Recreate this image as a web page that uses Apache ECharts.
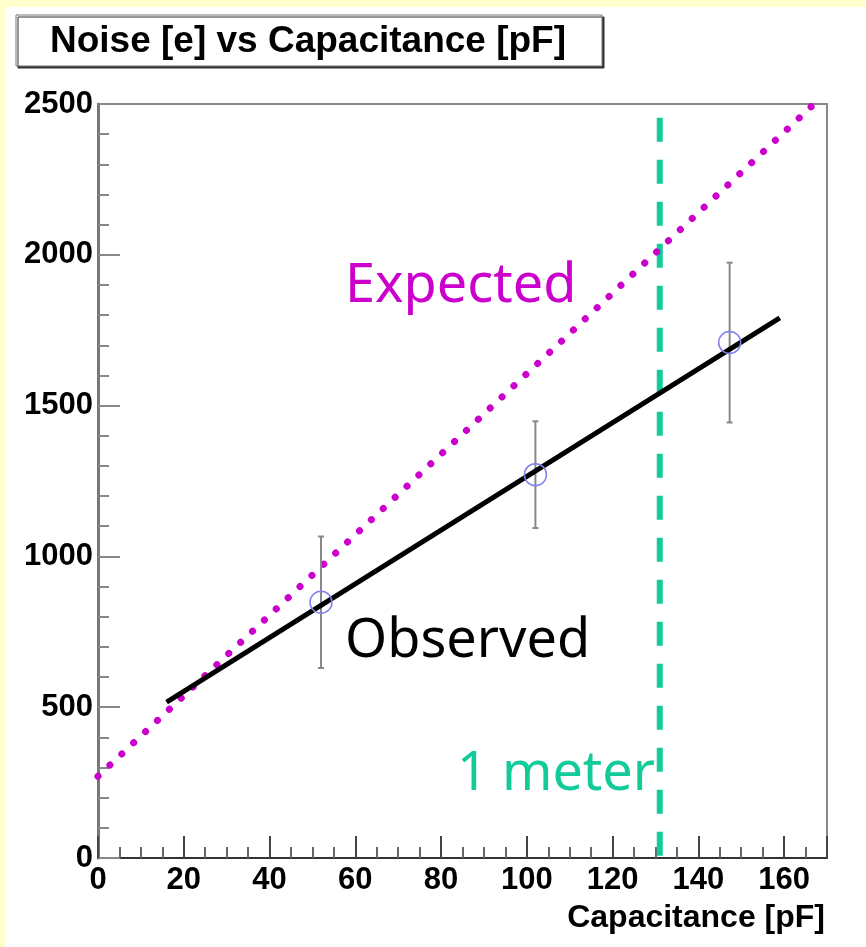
<!DOCTYPE html>
<html>
<head>
<meta charset="utf-8">
<script src="https://cdn.jsdelivr.net/npm/echarts@6/dist/echarts.min.js"></script>
<style>
  html, body { margin: 0; padding: 0; background: #ffffcc; }
  #main { position: absolute; left: 5px; top: 7px; width: 861px; height: 940px; background: #fff; }
</style>
</head>
<body>
<div id="main"></div>
<script>
// measured points (capacitance, noise, error)
var capacitance = [52, 102, 147.3];
var noise = [848, 1271, 1709];
var noiseErr = [218, 177, 265];

// linear fit through the observed points
var fitX = [16, 159];
var fitY = [517, 1791];

// expected noise line
var expX = [0, 167];
var expY = [271, 2500];

// 1 meter cable marker
var meterX = 131;
var meterY = [2454, 0];

var chart = echarts.init(document.getElementById('main'));

function pairs(xs, ys) {
  return xs.map(function (x, i) { return [x, ys[i]]; });
}

var errData = capacitance.map(function (x, i) {
  return [x, noise[i] - noiseErr[i], noise[i] + noiseErr[i]];
});

var tickFont = { fontFamily: 'Liberation Sans, Arial, sans-serif', fontWeight: 'bold', fontSize: 31, color: '#000' };
var comic = "'Comic Sans MS', 'Noto Sans', sans-serif";

chart.setOption({
  animation: false,
  backgroundColor: '#fff',
  grid: {
    left: 93, top: 97, right: 39, bottom: 89,
    show: true, borderColor: '#888', borderWidth: 2
  },
  xAxis: {
    type: 'value',
    min: 0, max: 170, interval: 20,
    name: 'Capacitance [pF]',
    nameLocation: 'end',
    nameGap: -2,
    nameTextStyle: {
      fontFamily: 'Liberation Sans, Arial, sans-serif', fontWeight: 'bold', fontSize: 32, color: '#000',
      align: 'right', verticalAlign: 'top', padding: [44, 0, 0, 0]
    },
    axisLine: { lineStyle: { color: '#333', width: 2 } },
    axisTick: { inside: true, length: 22, lineStyle: { color: '#444', width: 2 } },
    minorTick: { show: true, splitNumber: 4, length: 11, lineStyle: { color: '#666', width: 2 } },
    axisLabel: Object.assign({ margin: 7, formatter: function (v) { return String(v); } }, tickFont),
    splitLine: { show: false }
  },
  yAxis: {
    type: 'value',
    min: 0, max: 2500, interval: 500,
    axisLine: { lineStyle: { color: '#777', width: 3 } },
    axisTick: { inside: true, length: 22, lineStyle: { color: '#888', width: 2 } },
    minorTick: { show: true, splitNumber: 5, length: 11, lineStyle: { color: '#888', width: 2 } },
    axisLabel: Object.assign({ margin: 5, padding: [8, 0, 0, 0], formatter: function (v) { return String(v); } }, tickFont),
    splitLine: { show: false }
  },
  graphic: [
    {
      type: 'rect',
      shape: { x: 11, y: 8, width: 586, height: 51 },
      style: { fill: '#fff', stroke: '#777', lineWidth: 1, shadowColor: '#333', shadowOffsetX: 2, shadowOffsetY: 2, shadowBlur: 0 },
      z: 10
    },
    {
      type: 'text',
      x: 303, y: 35,
      style: {
        text: 'Noise [e] vs Capacitance [pF]',
        fontFamily: 'Liberation Sans, Arial, sans-serif', fontWeight: 'bold', fontSize: 37,
        fill: '#000', align: 'center', verticalAlign: 'middle'
      },
      z: 11
    },
    {
      type: 'text', x: 340, y: 280,
      style: { text: 'Expected', fontFamily: comic, fontSize: 54, fill: '#cc00cc', align: 'left', verticalAlign: 'middle' },
      z: 20
    },
    {
      type: 'text', x: 340, y: 635,
      style: { text: 'Observed', fontFamily: comic, fontSize: 54, fill: '#000', align: 'left', verticalAlign: 'middle' },
      z: 20
    },
    {
      type: 'text', x: 452, y: 768,
      style: { text: '1 meter', fontFamily: comic, fontSize: 54, fill: '#11cc99', align: 'left', verticalAlign: 'middle' },
      z: 20
    }
  ],
  series: [
    {
      name: 'Expected',
      type: 'line',
      data: pairs(expX, expY),
      symbol: 'none',
      lineStyle: { color: '#cc00cc', width: 7, type: [0.1, 16.2], cap: 'round' },
      z: 3
    },
    {
      name: '1 meter',
      type: 'line',
      data: [[meterX, meterY[0]], [meterX, meterY[1]]],
      symbol: 'none',
      lineStyle: { color: '#11cc99', width: 6, type: [24, 18] },
      z: 2
    },
    {
      name: 'errors',
      type: 'custom',
      data: errData,
      renderItem: function (params, api) {
        var x = api.value(0);
        var lo = api.coord([x, api.value(1)]);
        var hi = api.coord([x, api.value(2)]);
        var st = { stroke: '#888', lineWidth: 2 };
        return {
          type: 'group',
          children: [
            { type: 'line', shape: { x1: lo[0], y1: lo[1], x2: hi[0], y2: hi[1] }, style: st },
            { type: 'line', shape: { x1: lo[0] - 3, y1: lo[1], x2: lo[0] + 3, y2: lo[1] }, style: st },
            { type: 'line', shape: { x1: hi[0] - 3, y1: hi[1], x2: hi[0] + 3, y2: hi[1] }, style: st }
          ]
        };
      },
      z: 4
    },
    {
      name: 'Observed',
      type: 'line',
      data: pairs(fitX, fitY),
      symbol: 'none',
      lineStyle: { color: '#000', width: 5 },
      z: 5
    },
    {
      name: 'points',
      type: 'scatter',
      data: pairs(capacitance, noise),
      symbol: 'circle',
      symbolSize: 22,
      itemStyle: { color: 'rgba(0,0,0,0)', opacity: 1, borderColor: '#8080ee', borderWidth: 1.5 },
      z: 6
    }
  ]
});
</script>
</body>
</html>
